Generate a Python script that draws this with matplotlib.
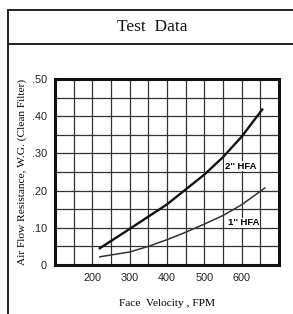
import matplotlib
matplotlib.use("Agg")
from matplotlib import pyplot as plt
from matplotlib.lines import Line2D

# values
hfa2_x = [220, 300, 400, 500, 550, 600, 655]
hfa2_y = [0.045, 0.097, 0.163, 0.243, 0.290, 0.345, 0.418]
hfa1_x = [220, 300, 350, 400, 450, 500, 550, 600, 662]
hfa1_y = [0.022, 0.035, 0.050, 0.068, 0.088, 0.110, 0.133, 0.162, 0.207]
x_ticks = [200, 300, 400, 500, 600]
y_ticks = [0, 0.1, 0.2, 0.3, 0.4, 0.5]
y_tick_labels = ["0", ".10", ".20", ".30", ".40", ".50"]

W, H = 293, 314
fig = plt.figure(figsize=(W / 100, H / 100), dpi=100)
fig.patch.set_facecolor("white")

# outer frame of the data sheet
def px(x, y):
    return x / W, 1 - y / H
for (x0, y0), (x1, y1) in [((8, 10), (293, 10)), ((8, 44), (293, 44)), ((8, 10), (8, 314))]:
    a, b = px(x0, y0)
    c, d = px(x1, y1)
    fig.add_artist(Line2D([a, c], [b, d], color="#222222", lw=1.4))
fig.text(152 / W, 1 - 27 / H, "Test  Data", ha="center", va="center",
         family="Liberation Serif", fontsize=12.5, color="#111111")

ax = fig.add_axes([55 / W, (H - 265) / H, 224 / W, 186 / H])
ax.set_xlim(100, 700)
ax.set_ylim(0, 0.5)

# grid every 50 FPM and every .05
for gx in range(150, 700, 50):
    ax.axvline(gx, color="#333333", lw=0.9, zorder=1)
for i in range(1, 10):
    ax.axhline(i * 0.05, color="#333333", lw=0.9, zorder=1)

ax.plot(hfa2_x, hfa2_y, color="#111111", lw=1.7, zorder=3)
ax.plot(hfa1_x, hfa1_y, color="#333333", lw=1.1, zorder=3)

bb = dict(facecolor="white", edgecolor="none", pad=0.6)
ax.text(597, 0.266, "2'' HFA", ha="center", va="center", fontsize=6.8,
        fontweight="bold", family="Liberation Sans", bbox=bb, zorder=4)
ax.text(605, 0.113, "1'' HFA", ha="center", va="center", fontsize=6.8,
        fontweight="bold", family="Liberation Sans", bbox=bb, zorder=4)

ax.set_xticks(x_ticks)
ax.set_yticks(y_ticks)
ax.set_yticklabels(y_tick_labels)
ax.tick_params(length=0, pad=6, labelsize=7.8, colors="#222222")
for lab in ax.get_xticklabels() + ax.get_yticklabels():
    lab.set_family("Liberation Sans")
for s in ax.spines.values():
    s.set_linewidth(2.2)
    s.set_color("#111111")
    s.set_zorder(5)

ax.set_xlabel("Face  Velocity , FPM", family="Liberation Serif", fontsize=8.2, labelpad=11)
ax.set_ylabel("Air Flow Resistance, W.G. (Clean Filter)", family="Liberation Serif",
              fontsize=8.2, labelpad=3)

fig.savefig("out.png", dpi=100)
